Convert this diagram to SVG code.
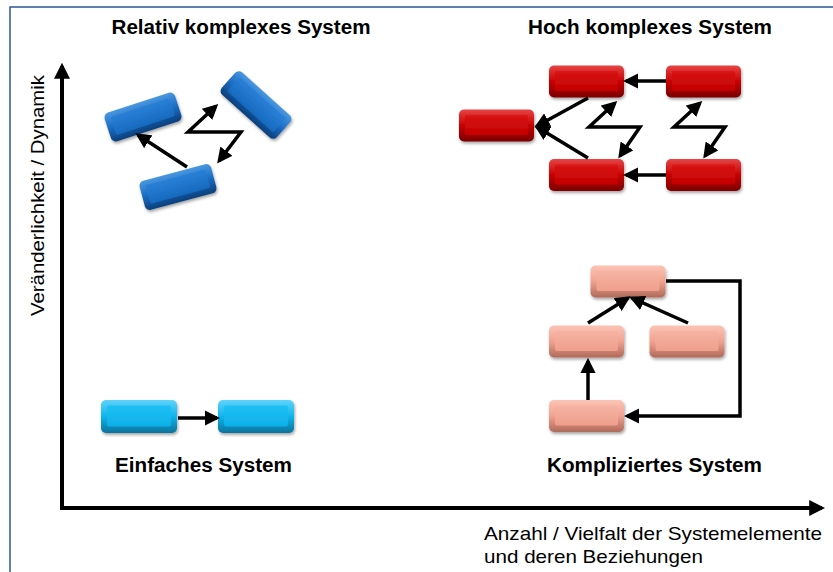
<svg xmlns="http://www.w3.org/2000/svg" width="833" height="572" viewBox="0 0 833 572">
<style>
.t{font-family:"Liberation Sans",Arial,sans-serif;font-weight:bold;font-size:19.5px;fill:#000;text-anchor:middle}
.a{font-family:"Liberation Sans",Arial,sans-serif;font-size:19px;fill:#000}
.ax{stroke:#000;stroke-width:4;fill:none}
.c{stroke:#000;stroke-width:3.5;fill:none;stroke-linejoin:miter}
.ce{marker-end:url(#ah)}
.cb{marker-start:url(#ah);marker-end:url(#ah)}
</style>
<defs>
<marker id="ah" viewBox="0 0 10 10" refX="8" refY="5" markerWidth="4.4" markerHeight="4.4" orient="auto-start-reverse" markerUnits="strokeWidth">
<path d="M0,0 L10,5 L0,10 z" fill="#000"/>
</marker>
<marker id="axh" viewBox="0 0 10 10" refX="8" refY="5" markerWidth="4" markerHeight="4" orient="auto" markerUnits="strokeWidth">
<path d="M0,0 L10,5 L0,10 z" fill="#000"/>
</marker>
<filter id="sh" x="-20%" y="-20%" width="140%" height="160%">
<feDropShadow dx="1" dy="2" stdDeviation="1.5" flood-color="#000" flood-opacity="0.35"/>
</filter>
<linearGradient id="gDB" x1="0" y1="0" x2="0" y2="1"><stop offset="0" stop-color="#4a97e0"/><stop offset="0.5" stop-color="#1a6dc4"/><stop offset="1" stop-color="#0c3f7a"/></linearGradient>
<linearGradient id="fDB" x1="0" y1="0" x2="0" y2="1"><stop offset="0" stop-color="#2a80d6"/><stop offset="1" stop-color="#166abf"/></linearGradient>
<linearGradient id="gLB" x1="0" y1="0" x2="0" y2="1"><stop offset="0" stop-color="#5fd3fa"/><stop offset="0.5" stop-color="#10b4ec"/><stop offset="1" stop-color="#07729a"/></linearGradient>
<linearGradient id="fLB" x1="0" y1="0" x2="0" y2="1"><stop offset="0" stop-color="#1ec0f4"/><stop offset="1" stop-color="#0eb0e8"/></linearGradient>
<linearGradient id="gR" x1="0" y1="0" x2="0" y2="1"><stop offset="0" stop-color="#e64545"/><stop offset="0.5" stop-color="#c80000"/><stop offset="1" stop-color="#7a0000"/></linearGradient>
<linearGradient id="fR" x1="0" y1="0" x2="0" y2="1"><stop offset="0" stop-color="#d81414"/><stop offset="1" stop-color="#c40000"/></linearGradient>
<linearGradient id="gP" x1="0" y1="0" x2="0" y2="1"><stop offset="0" stop-color="#fbc4b6"/><stop offset="0.5" stop-color="#f0a290"/><stop offset="1" stop-color="#b06a5a"/></linearGradient>
<linearGradient id="fP" x1="0" y1="0" x2="0" y2="1"><stop offset="0" stop-color="#f6b3a3"/><stop offset="1" stop-color="#ef9f8c"/></linearGradient>
<g id="bDB"><rect x="-37" y="-15" width="74" height="30" rx="5" fill="url(#gDB)"/><rect x="-31" y="-10" width="62" height="19" rx="2" fill="url(#fDB)"/></g>
<g id="bLB"><rect x="-38" y="-16.5" width="76" height="33" rx="5" fill="url(#gLB)"/><rect x="-32" y="-11" width="64" height="21" rx="2" fill="url(#fLB)"/></g>
<g id="bR"><rect x="-37.5" y="-16" width="75" height="32" rx="5" fill="url(#gR)"/><rect x="-31.5" y="-10.5" width="63" height="20" rx="2" fill="url(#fR)"/></g>
<g id="bP"><rect x="-37.5" y="-16" width="75" height="32" rx="5" fill="url(#gP)"/><rect x="-31.5" y="-10.5" width="63" height="20" rx="2" fill="url(#fP)"/></g>
</defs>
<rect width="833" height="572" fill="#fff"/>
<rect x="10" y="7" width="840" height="600" fill="none" stroke="#2e5597" stroke-width="1.5"/>

<g id="axes">
<line class="ax" x1="62" y1="510" x2="62" y2="66" marker-end="url(#axh)"/>
<line class="ax" x1="60" y1="508" x2="822" y2="508" marker-end="url(#axh)"/>
</g>

<g id="labels">
<text class="t" x="241" y="34" textLength="259" lengthAdjust="spacingAndGlyphs">Relativ komplexes System</text>
<text class="t" x="650" y="34" textLength="244" lengthAdjust="spacingAndGlyphs">Hoch komplexes System</text>
<text class="t" x="203.5" y="472" textLength="177" lengthAdjust="spacingAndGlyphs">Einfaches System</text>
<text class="t" x="654.5" y="472" textLength="215" lengthAdjust="spacingAndGlyphs">Kompliziertes System</text>
<text class="a" transform="translate(44,195.5) rotate(-90)" text-anchor="middle" textLength="241" lengthAdjust="spacingAndGlyphs">Veränderlichkeit / Dynamik</text>
<text class="a" x="484" y="540" textLength="338" lengthAdjust="spacingAndGlyphs">Anzahl / Vielfalt der Systemelemente</text>
<text class="a" x="484" y="563" textLength="219" lengthAdjust="spacingAndGlyphs">und deren Beziehungen</text>
</g>

<g id="nodes" filter="url(#sh)">
<g id="rel-a"><use href="#bDB" transform="translate(143,117) rotate(-18)"/></g>
<g id="rel-b"><use href="#bDB" transform="translate(256,105) rotate(42)"/></g>
<g id="rel-c"><use href="#bDB" transform="translate(178,187) rotate(-15)"/></g>

<g id="ein-1"><use href="#bLB" transform="translate(139,416.5)"/></g>
<g id="ein-2"><use href="#bLB" transform="translate(256,416.5)"/></g>

<g id="hoch-tl"><use href="#bR" transform="translate(586.5,81.5)"/></g>
<g id="hoch-tr"><use href="#bR" transform="translate(703.5,81.5)"/></g>
<g id="hoch-l"><use href="#bR" transform="translate(496.5,125.5)"/></g>
<g id="hoch-bl"><use href="#bR" transform="translate(586.5,175)"/></g>
<g id="hoch-br"><use href="#bR" transform="translate(703.5,175)"/></g>

<g id="kom-top"><use href="#bP" transform="translate(628,281.5)"/></g>
<g id="kom-ml"><use href="#bP" transform="translate(586.5,341.5)"/></g>
<g id="kom-mr"><use href="#bP" transform="translate(687,341.5)"/></g>
<g id="kom-bot"><use href="#bP" transform="translate(586.5,416)"/></g>
</g>

<g id="connectors">
<path class="c ce" d="M187,167 L138,135"/>
<path class="c cb" d="M216,106 L188,132 L241,132 L219,161"/>

<path class="c ce" d="M178,418 L217,418"/>

<path class="c ce" d="M666,81 L626,81"/>
<path class="c ce" d="M666,175 L626,175"/>
<path class="c ce" d="M588,98 L537,126"/>
<path class="c ce" d="M588,158 L537,127"/>
<path class="c cb" d="M615,103 L589,127 L640,127 L620,156"/>
<path class="c cb" d="M700,103 L674,127 L725,127 L705,156"/>

<path class="c ce" d="M588,400 L588,361"/>
<path class="c ce" d="M588,323 L628,298"/>
<path class="c ce" d="M688,323 L632,298"/>
<path class="c ce" d="M666,281 L740,281 L740,416 L627,416"/>
</g>
</svg>
